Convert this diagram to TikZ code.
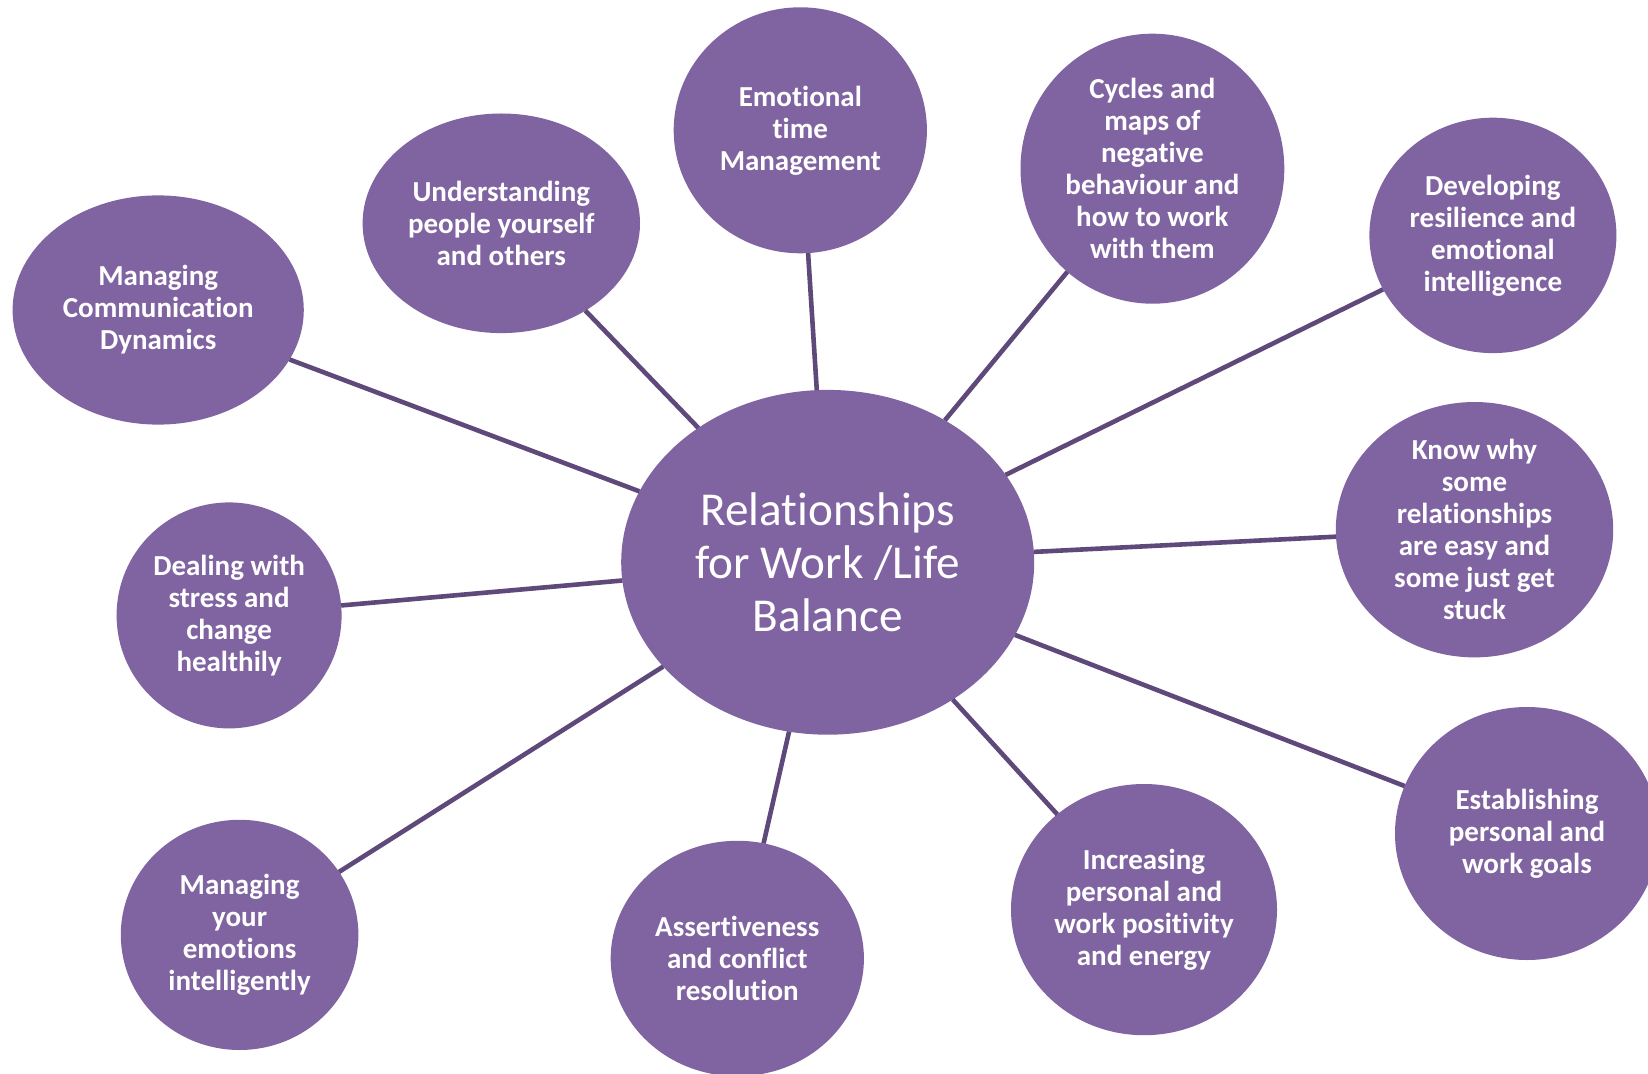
\documentclass[tikz,border=0pt]{standalone}
\usepackage{fontspec}
\setmainfont[Ligatures=CommonOff]{Carlito}
\usetikzlibrary{shapes.geometric}
\definecolor{pfill}{HTML}{8064A2}
\definecolor{pline}{HTML}{5F497A}
\tikzset{
  bub/.style={ellipse, fill=pfill, text=white, inner sep=0pt, outer sep=0pt,
    font=\bfseries\fontsize{14.5}{16}\selectfont, align=center},
  hub/.style={ellipse, fill=pfill, text=white, inner sep=0pt, outer sep=0pt,
    font=\fontsize{23.6}{26.3}\selectfont, align=center},
  link/.style={draw=pline, line width=2.3pt}
}
\begin{document}
\begin{tikzpicture}[x=0.5pt,y=-0.5pt]
\useasboundingbox (0,0) rectangle (1648,1074);
\clip (0,0) rectangle (1648,1074);
\fill[white] (0,0) rectangle (1648,1074);
\node[hub, minimum width=206.5pt, minimum height=172.4pt] (c) at (827.7,562.3) {Relationships\\for Work /Life\\Balance};
\node[bub, minimum width=145.6pt, minimum height=114.6pt] (n1) at (158.2,310) {Managing\\Communication\\Dynamics};
\node[bub, minimum width=138.7pt, minimum height=109.8pt] (n2) at (501.3,223.3) {Understanding\\people yourself\\and others};
\node[bub, minimum width=126.6pt, minimum height=123pt] (n3) at (800.3,130.3) {Emotional\\time\\Management};
\node[bub, minimum width=131.9pt, minimum height=135pt] (n4) at (1152.4,168.7) {Cycles and\\maps of\\negative\\behaviour and\\how to work\\with them};
\node[bub, minimum width=123.5pt, minimum height=117.7pt] (n5) at (1492.9,235.4) {Developing\\resilience and\\emotional\\intelligence};
\node[bub, minimum width=138.7pt, minimum height=119.8pt] (n6) at (1474.5,529.7) {Know why\\some\\relationships\\are easy and\\some just get\\stuck};
\node[bub, minimum width=132pt, minimum height=126.5pt] (n7) at (1527,833.5) {Establishing\\personal and\\work goals};
\node[bub, minimum width=133pt, minimum height=125.6pt] (n8) at (1144,909.6) {Increasing\\personal and\\work positivity\\and energy};
\node[bub, minimum width=126.6pt, minimum height=117.7pt] (n9) at (737.3,958.5) {Assertiveness\\and conflict\\resolution};
\node[bub, minimum width=118.8pt, minimum height=115.1pt] (n10) at (239.6,934.9) {Managing\\your\\emotions\\intelligently};
\node[bub, minimum width=112.5pt, minimum height=113pt] (n11) at (229.1,615.4) {Dealing with\\stress and\\change\\healthily};
\foreach \n in {n1,n2,n3,n4,n5,n6,n7,n8,n9,n10,n11}
  \draw[link] (c) -- (\n);
\end{tikzpicture}
\end{document}
